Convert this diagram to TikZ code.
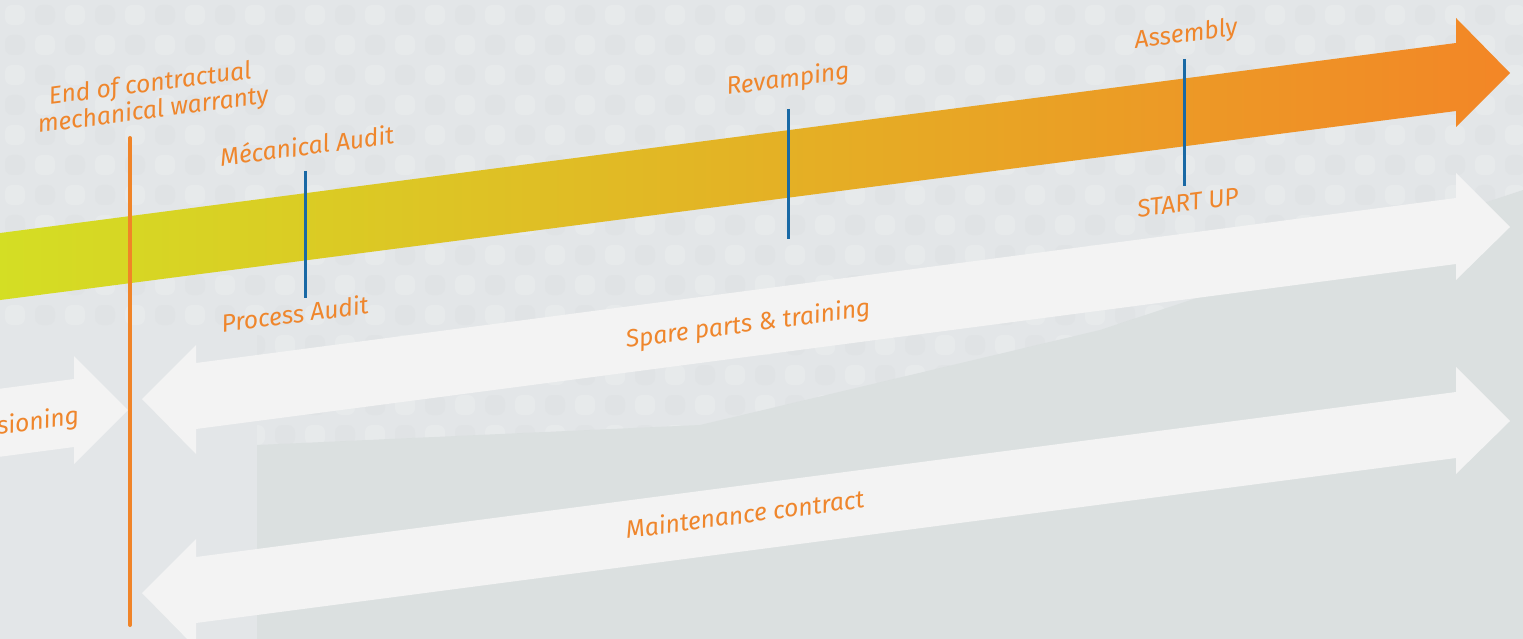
\documentclass[tikz,border=0pt]{standalone}
\usepackage{fontspec}
\setmainfont{Fira Sans}
\definecolor{bgc}{RGB}{227,230,232}
\definecolor{bgd}{RGB}{219,224,224}
\definecolor{txtor}{RGB}{239,134,44}
\definecolor{lineor}{RGB}{240,132,40}
\definecolor{markblue}{RGB}{25,105,165}
\definecolor{wa}{RGB}{243,243,243}
\definecolor{gA}{RGB}{212,222,36}
\definecolor{gB}{RGB}{230,178,38}
\definecolor{gC}{RGB}{243,134,38}
\definecolor{dotg}{RGB}{205,208,211}
\newcommand\lblfont{\fontsize{24.7}{27}\selectfont\itshape}
\begin{document}
\begin{tikzpicture}[x=1pt,y=-1pt,
  lbl/.style={text=txtor, font=\lblfont, inner sep=0pt, rotate=7.4, anchor=base},
  marker/.style={line width=3pt, draw=markblue},
  warranty/.style={line width=4pt, draw=lineor, line cap=round},
  whitearrow/.style={fill=wa},
  ]
\useasboundingbox (0,0) rectangle (1523,639);
\fill[bgc] (0,0) rectangle (1523,639);
\fill[bgd] (257,639) -- (257,445) -- (700,425) -- (1100,330) -- (1523,190) -- (1523,639) -- cycle;
% background texture
\begin{scope}
\clip (0,0) -- (1523,0) -- (1523,190) -- (1100,330) -- (700,425) -- (257,445) -- (257,330) -- (0,330) -- cycle;
\foreach \i in {0,...,25} {
  \foreach \j in {0,...,7} {
    \fill[white, opacity=0.16, rounded corners=7pt] (60*\i+5,60*\j+5) rectangle +(20,20);
    \fill[white, opacity=0.16, rounded corners=7pt] (60*\i+35,60*\j+35) rectangle +(20,20);
    \fill[dotg, opacity=0.12, rounded corners=7pt] (60*\i+35,60*\j+5) rectangle +(20,20);
    \fill[dotg, opacity=0.12, rounded corners=7pt] (60*\i+5,60*\j+35) rectangle +(20,20);
  }
}
\end{scope}
% main timeline arrow
\shade[left color=gA, middle color=gB, right color=gC]
  (-2,233.3) -- (1456,43) -- (1456,18) -- (1510,73) -- (1456,127) -- (1456,111) -- (-2,300.3) -- cycle;
% spare parts arrow
\fill[whitearrow] (142,399) -- (196,345) -- (196,363) -- (1456,198) -- (1456,173) -- (1510,227)
  -- (1456,280) -- (1456,264) -- (196,429) -- (196,454) -- cycle;
% maintenance arrow
\fill[whitearrow] (142,593) -- (196,539) -- (196,557) -- (1456,392) -- (1456,367) -- (1510,421)
  -- (1456,474) -- (1456,458) -- (196,623) -- (196,648) -- cycle;
% commissioning arrow
\fill[whitearrow] (-2,457) -- (74,447) -- (74,464) -- (128,410) -- (74,356) -- (74,379) -- (-2,389) -- cycle;
% warranty line
\coordinate (w1) at (130,138);
\coordinate (w2) at (130,625);
\draw[warranty] (w1) -- (w2);
% blue markers
\coordinate (m1a) at (305,171); \coordinate (m1b) at (305,298);
\coordinate (m2a) at (788,109); \coordinate (m2b) at (788,239);
\coordinate (m3a) at (1184,59); \coordinate (m3b) at (1184,186);
\draw[marker] (m1a) -- (m1b);
\draw[marker] (m2a) -- (m2b);
\draw[marker] (m3a) -- (m3b);
% labels
\node[lbl] (t1) at (151,91.5) {End of contractual};
\node[lbl] (t2) at (154,118) {mechanical warranty};
\node[lbl] (t3) at (308,155) {Mécanical Audit};
\node[lbl] (t4) at (296,323) {Process Audit};
\node[lbl] (t5) at (789,87) {Revamping};
\node[lbl] (t6) at (1187,42) {Assembly};
\node[lbl] (t7) at (1189,211) {START UP};
\node[lbl] (t8) at (749,332) {Spare parts \& training};
\node[lbl] (t9) at (746,523) {Maintenance contract};
\node[lbl, anchor=base east] (t10) at (80,424) {ssioning};
\end{tikzpicture}
\end{document}
